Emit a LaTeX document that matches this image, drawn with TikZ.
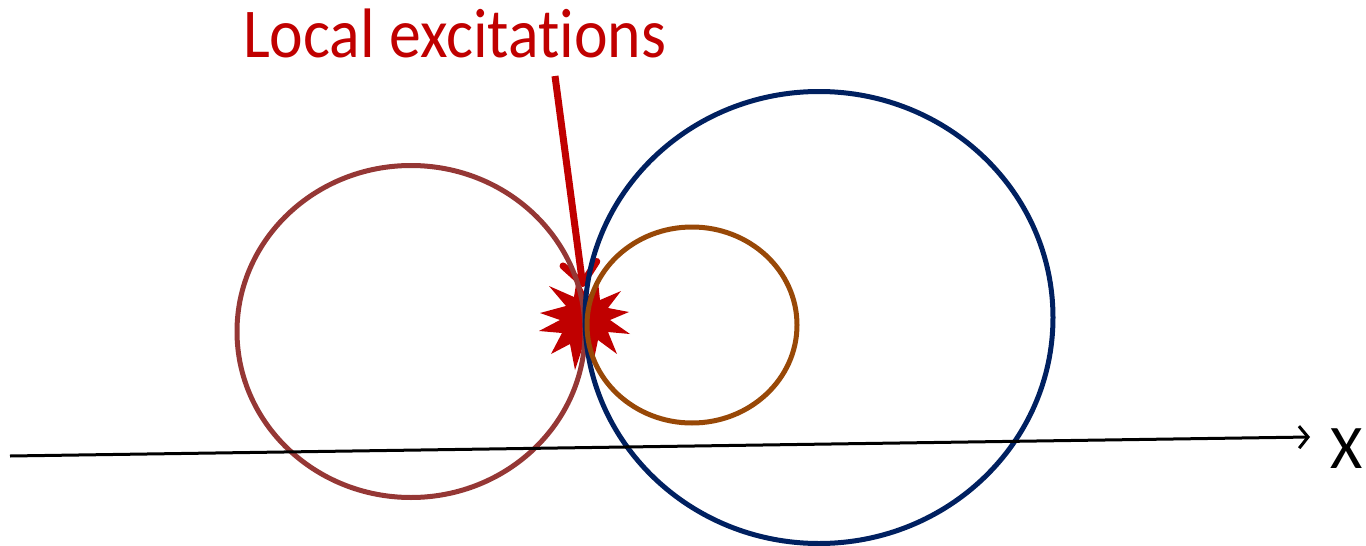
\documentclass[tikz,border=0pt]{standalone}
\usepackage{fontspec}
\setmainfont{Carlito}[Ligatures=CommonOff]
\usetikzlibrary{arrows.meta}
\definecolor{exred}{HTML}{C00000}
\definecolor{leftc}{HTML}{953735}
\definecolor{bluec}{HTML}{002060}
\definecolor{orangec}{HTML}{984807}
\tikzset{
  ring/.style={line width=5pt},
}
\begin{document}
\begin{tikzpicture}[x=1pt,y=-1pt]
\useasboundingbox (0,0) rectangle (1366,546);
% starburst
\fill[exred] (540,313) -- (566,306) -- (549,286) -- (574,297) -- (577,278) -- (587,298) -- (598,281) -- (600,300) -- (621,291) -- (608,308) -- (629,312) -- (610,320) -- (630,334) -- (608,332) -- (617,354) -- (598,340) -- (593,364) -- (584,343) -- (575,370) -- (570,344) -- (551,354) -- (562,333) -- (539,331) -- (560,320) -- cycle;
% label and arrow
\node[text=exred, font=\fontsize{70}{80}\selectfont, anchor=base west, inner sep=0pt] (lbl) at (243,57) {\scalebox{0.91}[1]{Local excitations}};
\coordinate (tail) at (555,76);
\coordinate (tip) at (583,287);
\draw[exred, line width=7pt, -{Straight Barb[length=20pt,width=34pt,round]}] (tail) -- (tip);
% circles
\draw[ring, leftc] (411,331.5) ellipse [x radius=174, y radius=166];
\draw[ring, bluec] (819,317.5) ellipse [x radius=234, y radius=226];
\draw[ring, orangec] (692,325) ellipse [x radius=105, y radius=98];
% axis
\node[font=\fontsize{62}{70}\selectfont, anchor=base, inner sep=0pt] (xl) at (1347,468) {X};
\coordinate (a0) at (10,456);
\coordinate (a1) at (1310,437);
\draw[line width=3pt, -{Straight Barb[length=9pt,width=22pt]}] (a0) -- (a1);
\end{tikzpicture}
\end{document}
